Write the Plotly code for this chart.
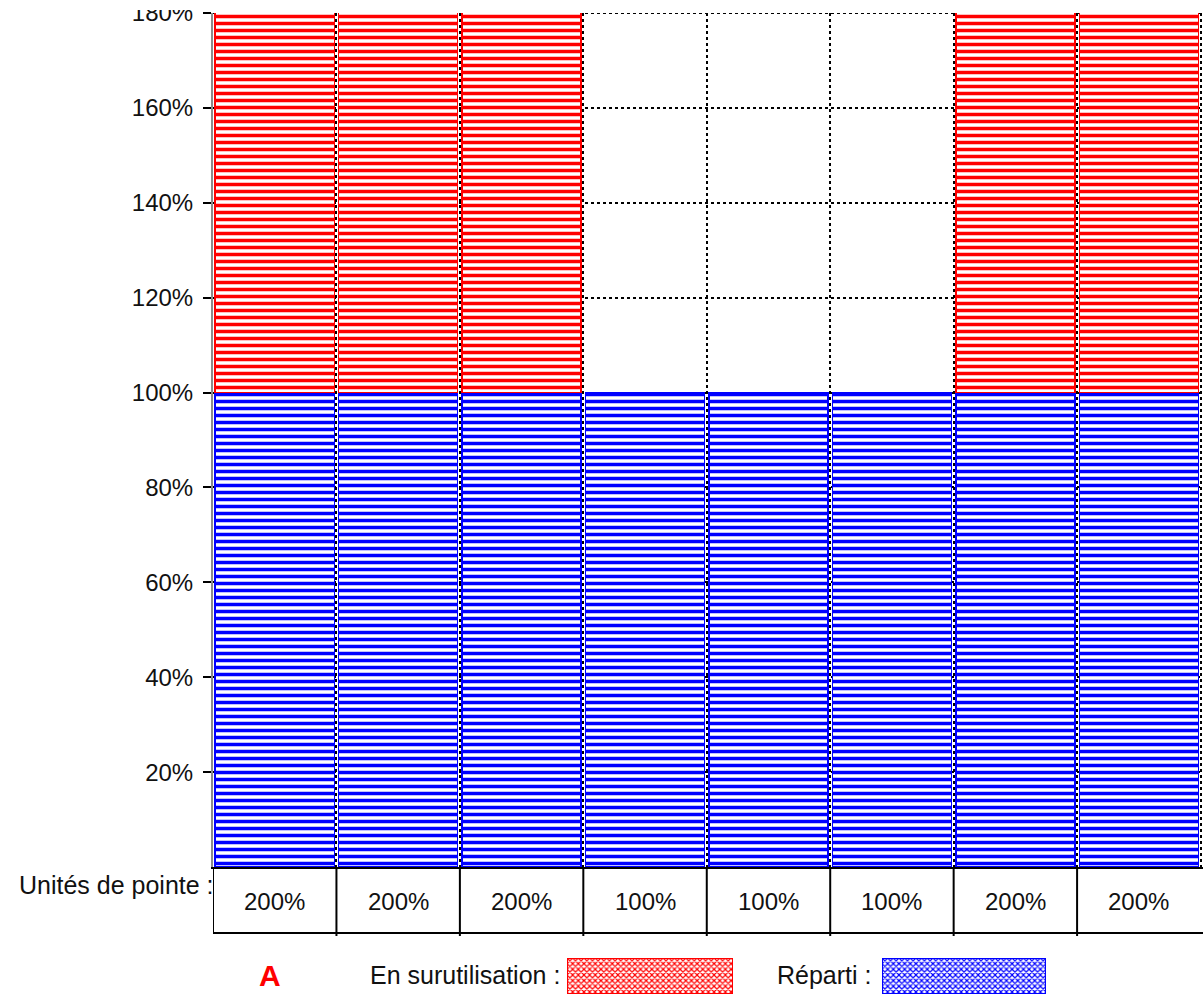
import plotly.graph_objects as go

# ---- data ----
categories = ["1", "2", "3", "4", "5", "6", "7", "8"]
reparti = [100, 100, 100, 100, 100, 100, 100, 100]
surutilisation = [100, 100, 100, None, None, None, 100, 100]
unites_de_pointe = ["200%", "200%", "200%", "100%", "100%", "100%", "200%", "200%"]
y_tickvals = [20, 40, 60, 80, 100, 120, 140, 160, 180]
y_ticktext = ["20%", "40%", "60%", "80%", "100%", "120%", "140%", "160%", "180%"]
swatch_value = [1]

RED = "rgb(255,0,0)"
BLUE = "rgb(0,0,255)"
FONT = "Arial, Liberation Sans, sans-serif"

W, H = 1203, 997
ML, MR, MT, MB = 213, 0, 13, 3
PH = H - MT - MB
def py(pix):  # pixel y -> paper y
    return (H - MB - pix) / PH
def px(pix):
    return (pix - ML) / (W - ML - MR)

def stripes(col):
    return dict(shape="-", fgcolor=col, bgcolor="white", size=7, solidity=0.5,
                fillmode="overlay", fgopacity=1)

def checks(col):
    return dict(shape="x", fgcolor=col, bgcolor="white", size=4, solidity=0.5,
                fillmode="overlay", fgopacity=1)

fig = go.Figure()
fig.add_trace(go.Bar(
    x=categories, y=reparti, name="Réparti",
    marker=dict(color="white", line=dict(color=BLUE, width=1.5), pattern=stripes(BLUE)),
    showlegend=False))
fig.add_trace(go.Bar(
    x=categories, y=surutilisation, name="En surutilisation",
    marker=dict(color="white", line=dict(color=RED, width=1.5), pattern=stripes(RED)),
    showlegend=False))

# legend swatches
fig.add_trace(go.Bar(x=["s"], y=swatch_value, xaxis="x2", yaxis="y2", width=[1],
    marker=dict(color="white", line=dict(color=RED, width=2), pattern=checks(RED)),
    showlegend=False, hoverinfo="skip"))
fig.add_trace(go.Bar(x=["s"], y=swatch_value, xaxis="x3", yaxis="y3", width=[1],
    marker=dict(color="white", line=dict(color=BLUE, width=2), pattern=checks(BLUE)),
    showlegend=False, hoverinfo="skip"))

y_low = py(867)
fig.update_layout(
    width=W, height=H,
    margin=dict(l=ML, r=MR, t=MT, b=MB),
    paper_bgcolor="white", plot_bgcolor="white",
    barmode="stack", bargap=0.035,
    font=dict(family=FONT, size=24, color="#111"),
    xaxis=dict(type="category", range=[-0.5, 7.52], domain=[0, 1], tickson="boundaries",
               showgrid=True, gridcolor="black", griddash="dot", gridwidth=2,
               showticklabels=False, ticks="", showline=True, linecolor="black", linewidth=2,
               zeroline=False, fixedrange=True),
    yaxis=dict(range=[0, 180], domain=[y_low, 1], tickvals=y_tickvals, ticktext=y_ticktext,
               showgrid=True, gridcolor="black", griddash="dot", gridwidth=2,
               ticks="outside", ticklen=8, tickwidth=2, tickcolor="black", ticklabelstandoff=5,
               ticklabeloverflow="allow",
               showline=True, linecolor="#8c8c8c", linewidth=2, zeroline=False,
               tickfont=dict(size=24, family=FONT, color="#111"), fixedrange=True),
    xaxis2=dict(domain=[px(567), px(733)], anchor="y2", range=[-0.5, 0.5], visible=False, type="category"),
    yaxis2=dict(domain=[py(994), py(958)], anchor="x2", range=[0, 1], visible=False),
    xaxis3=dict(domain=[px(882), px(1046)], anchor="y3", range=[-0.5, 0.5], visible=False, type="category"),
    yaxis3=dict(domain=[py(994), py(958)], anchor="x3", range=[0, 1], visible=False),
)

shapes = []
tb = py(933)
# dotted top border at 180%
shapes.append(dict(type="line", xref="x", yref="y", x0=-0.5, x1=7.52, y0=180, y1=180,
                   line=dict(color="black", width=2, dash="dot"), layer="below"))
# table left & bottom lines
shapes.append(dict(type="line", xref="x", yref="paper", x0=-0.5, x1=-0.5, y0=y_low, y1=tb,
                   line=dict(color="black", width=2)))
shapes.append(dict(type="line", xref="x", yref="paper", x0=-0.5, x1=7.52, y0=tb, y1=tb,
                   line=dict(color="black", width=2)))
for i in range(len(categories) - 1):
    shapes.append(dict(type="line", xref="x", yref="paper", x0=i + 0.5, x1=i + 0.5, y0=y_low, y1=py(936),
                       line=dict(color="black", width=2)))
# cover the top of the clipped 180% label
shapes.append(dict(type="rect", xref="paper", yref="paper", x0=px(90), x1=px(204), y0=py(10), y1=py(-5),
                   fillcolor="white", line=dict(width=0), layer="above"))
fig.update_layout(shapes=shapes)

ann = []
for i, v in enumerate(unites_de_pointe):
    ann.append(dict(x=i, xref="x", y=py(901), yref="paper", text=v, showarrow=False,
                    font=dict(size=24, family=FONT, color="#111"), yanchor="middle"))
ann.append(dict(x=px(216), xref="paper", y=py(885), yref="paper", text="Unités de pointe :",
                showarrow=False, xanchor="right", yanchor="middle", font=dict(size=25, family=FONT, color="#111")))
ann.append(dict(x=px(270), xref="paper", y=py(975), yref="paper", text="<b>A</b>",
                showarrow=False, xanchor="center", yanchor="middle", font=dict(size=30, family=FONT, color=RED)))
ann.append(dict(x=px(562), xref="paper", y=py(975), yref="paper", text="En surutilisation :",
                showarrow=False, xanchor="right", yanchor="middle", font=dict(size=25, family=FONT, color="#111")))
ann.append(dict(x=px(873), xref="paper", y=py(975), yref="paper", text="Réparti :",
                showarrow=False, xanchor="right", yanchor="middle", font=dict(size=25, family=FONT, color="#111")))
fig.update_layout(annotations=ann)

fig.write_html("out.html", config={"displayModeBar": False},
               post_script="document.body.style.margin='0';document.body.style.overflow='hidden';")
